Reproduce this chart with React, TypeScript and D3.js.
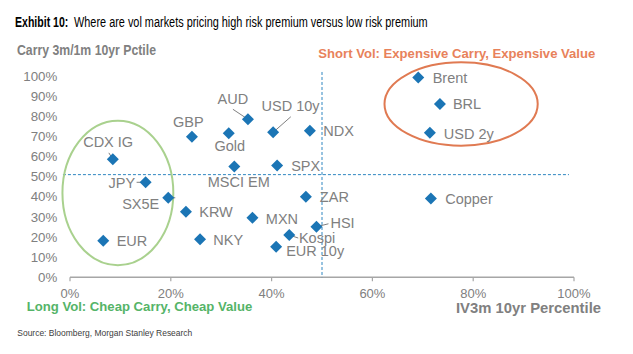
import React from "react";
import * as d3 from "d3";

const names = ["CDX IG","JPY","SX5E","GBP","Gold","AUD","USD 10y","NDX","MSCI EM","SPX","ZAR","KRW","MXN","EUR","NKY","Kospi","EUR 10y","HSI","Brent","BRL","USD 2y","Copper"];
const ivPctile = [8.5,15.0,19.5,24.2,31.5,35.3,40.3,47.6,32.6,41.1,46.8,23.0,36.2,6.6,25.8,43.5,40.9,48.9,69.1,73.4,71.4,71.6];
const carryPctile = [58.6,47.2,39.5,69.8,71.5,78.5,72.0,72.8,55.0,55.6,40.0,32.6,29.6,18.2,18.9,21.0,15.2,25.1,99.2,86.1,71.8,39.2];
const xTicks = [0,20,40,60,80,100];
const yTicks = [0,10,20,30,40,50,60,70,80,90,100];
const xThreshold = 50;
const yThreshold = 51;

// label layout (pixel offsets from point)
const labelLayout: Record<string, {dx:number; dy:number; anchor:string; leader?: [number,number]}> = {
  "CDX IG": {dx:-4.7, dy:-17, anchor:"middle", leader:[-4,-6.5]},
  "JPY": {dx:-10.5, dy:0.4, anchor:"end", leader:[-9,0]},
  "SX5E": {dx:-9, dy:6.6, anchor:"end", leader:[7,0]},
  "GBP": {dx:-3.7, dy:-14.4, anchor:"middle"},
  "Gold": {dx:1, dy:12.7, anchor:"middle"},
  "AUD": {dx:-15, dy:-20.3, anchor:"middle", leader:[-15,-10]},
  "USD 10y": {dx:-11.6, dy:-26.3, anchor:"start", leader:[17.7,-15.6]},
  "NDX": {dx:13.3, dy:0, anchor:"start"},
  "MSCI EM": {dx:4.4, dy:15, anchor:"middle"},
  "SPX": {dx:14, dy:0.7, anchor:"start"},
  "ZAR": {dx:14, dy:0, anchor:"start"},
  "KRW": {dx:13.3, dy:0, anchor:"start"},
  "MXN": {dx:13.4, dy:1.3, anchor:"start"},
  "EUR": {dx:13.4, dy:0, anchor:"start"},
  "NKY": {dx:13.3, dy:0.7, anchor:"start"},
  "Kospi": {dx:9.7, dy:3.3, anchor:"start", leader:[9,3]},
  "EUR 10y": {dx:10, dy:4.3, anchor:"start"},
  "HSI": {dx:14, dy:-3.4, anchor:"start", leader:[12,-3]},
  "Brent": {dx:14.4, dy:0, anchor:"start"},
  "BRL": {dx:13, dy:0, anchor:"start"},
  "USD 2y": {dx:14, dy:1.3, anchor:"start"},
  "Copper": {dx:14.3, dy:0.7, anchor:"start"},
};

const W = 633, H = 354;
const x = d3.scaleLinear().domain([0, 100]).range([70, 574]);
const y = d3.scaleLinear().domain([0, 100]).range([277.3, 76]);

const GRAY = "#808080";
const BLUE = "#1B75B5";
const DASH = "#2E86C1";
const ORANGE = "#E8825B";
const GREEN = "#55B468";
const FONT = "'Liberation Sans', Arial, sans-serif";

const greenEllipse = {cx: 9.5, cy: 41.9, rx: 11.0, ry: 35.9};
const orangeEllipse = {cx: 77.6, cy: 86.1, rx: 15.2, ry: 20.7};

export default function App() {
  const half = 6;
  const diamondPath = `M0,${-half}L${half},0L0,${half}L${-half},0Z`;
  return (
    <svg width={W} height={H} style={{position:"absolute", left:0, top:0, background:"#fff"}} fontFamily={FONT}>
      <rect width={W} height={H} fill="#fff" />
      <text x={15} y={27} fontSize={14} fontWeight="bold" fill="#000" textLength={53.3} lengthAdjust="spacingAndGlyphs">Exhibit 10:</text>
      <text x={74} y={27} fontSize={14} fill="#000" textLength={353.7} lengthAdjust="spacingAndGlyphs">Where are vol markets pricing high risk premium versus low risk premium</text>

      <text x={17} y={55} fontSize={15} fontWeight="bold" fill={GRAY} textLength={139} lengthAdjust="spacingAndGlyphs">Carry 3m/1m 10yr Pctile</text>
      <text x={318.3} y={57.8} fontSize={13} fontWeight="bold" fill={ORANGE} textLength={277} lengthAdjust="spacingAndGlyphs">Short Vol: Expensive Carry, Expensive Value</text>

      {/* y tick labels */}
      {yTicks.map(t => (
        <text key={"y"+t} x={57.3} y={y(t)} dy="0.35em" textAnchor="end" fontSize={13.3} fill={GRAY}>{t}%</text>
      ))}

      {/* x axis */}
      <line x1={x(0)} x2={x(100)} y1={y(0)} y2={y(0)} stroke="#A6A6A6" strokeWidth={1.5} />
      {xTicks.map(t => (
        <g key={"x"+t}>
          <line x1={x(t)} x2={x(t)} y1={y(0)} y2={y(0)+4} stroke="#A6A6A6" strokeWidth={1.2} />
          <text x={x(t)} y={y(0)+16.5} dy="0.35em" textAnchor="middle" fontSize={13} fill={GRAY}>{t}%</text>
        </g>
      ))}

      {/* threshold lines */}
      <line x1={x(-1.4)} x2={x(99)} y1={y(yThreshold)} y2={y(yThreshold)} stroke={DASH} strokeWidth={1} strokeDasharray="3,2" />
      <line x1={x(xThreshold)} x2={x(xThreshold)} y1={y(102)} y2={y(0)} stroke={DASH} strokeWidth={1} strokeDasharray="3,2" />

      {/* ellipses */}
      <ellipse cx={x(greenEllipse.cx)} cy={y(greenEllipse.cy)} rx={x(greenEllipse.rx)-x(0)} ry={y(0)-y(greenEllipse.ry)} fill="none" stroke="#A9D18E" strokeWidth={2} />
      <ellipse cx={x(orangeEllipse.cx)} cy={y(orangeEllipse.cy)} rx={x(orangeEllipse.rx)-x(0)} ry={y(0)-y(orangeEllipse.ry)} fill="none" stroke="#E07A52" strokeWidth={2} />

      {/* leaders */}
      {names.map((n, i) => {
        const l = labelLayout[n];
        if (!l || !l.leader) return null;
        const px = x(ivPctile[i]), py = y(carryPctile[i]);
        return <line key={"l"+n} x1={px} y1={py} x2={px + l.leader[0]} y2={py + l.leader[1]} stroke={GRAY} strokeWidth={1} />;
      })}

      {/* points */}
      {names.map((n, i) => (
        <path key={"p"+n} d={diamondPath} transform={`translate(${x(ivPctile[i])},${y(carryPctile[i])})`} fill={BLUE} />
      ))}

      {/* labels */}
      {names.map((n, i) => {
        const l = labelLayout[n];
        return (
          <text key={"t"+n} x={x(ivPctile[i]) + l.dx} y={y(carryPctile[i]) + l.dy} dy="0.35em" textAnchor={l.anchor as any} fontSize={14.5} fill={GRAY}>{n}</text>
        );
      })}

      <text x={26.7} y={310.5} fontSize={13} fontWeight="bold" fill={GREEN} textLength={225.6} lengthAdjust="spacingAndGlyphs">Long Vol: Cheap Carry, Cheap Value</text>
      <text x={456} y={312.5} fontSize={14.5} fontWeight="bold" fill={GRAY} textLength={145} lengthAdjust="spacingAndGlyphs">IV3m 10yr Percentile</text>

      <text x={17.3} y={335.5} fontSize={9} fill="#404040" textLength={175} lengthAdjust="spacingAndGlyphs">Source: Bloomberg, Morgan Stanley Research</text>
    </svg>
  );
}
